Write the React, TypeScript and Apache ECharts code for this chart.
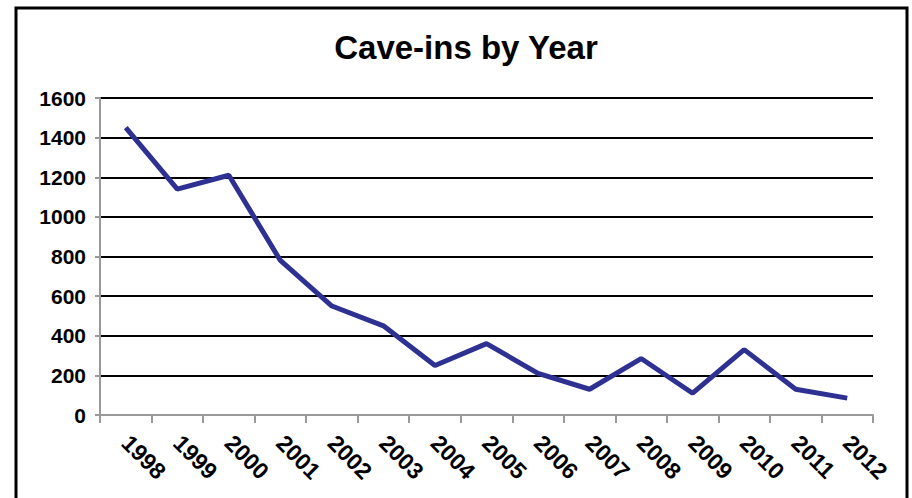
import React, { useEffect, useRef } from "react";
import * as echarts from "echarts";

const years = ["1998","1999","2000","2001","2002","2003","2004","2005","2006","2007","2008","2009","2010","2011","2012"];
const caveIns = [1450, 1140, 1210, 780, 550, 450, 250, 360, 210, 130, 285, 110, 330, 130, 85];
const chartTitle = "Cave-ins by Year";

export default function App() {
  const ref = useRef<HTMLDivElement>(null);
  useEffect(() => {
    document.body.style.margin = "0";
    const chart = echarts.init(ref.current!, null, { renderer: "svg" });
    chart.setOption({
      animation: false,
      backgroundColor: "#ffffff",
      textStyle: { fontFamily: "Liberation Sans, Arial, sans-serif" },
      title: {
        text: chartTitle,
        left: 461,
        top: 26,
        textAlign: "center",
        textStyle: { fontSize: 33, fontWeight: "bold", color: "#000" },
      },
      graphic: [
        {
          type: "rect",
          shape: { x: 16, y: 8, width: 891, height: 520 },
          style: { fill: "none", stroke: "#000", lineWidth: 3 },
          silent: true,
        },
      ],
      grid: { left: 100, right: 39, top: 98, bottom: 83, containLabel: false },
      xAxis: {
        type: "category",
        data: years,
        boundaryGap: true,
        axisLine: { lineStyle: { color: "#999", width: 2 } },
        axisTick: { show: true, length: 8, lineStyle: { color: "#999", width: 2 } },
        axisLabel: {
          rotate: -45,
          margin: 24,
          fontSize: 23,
          fontWeight: "bold",
          color: "#000",
          interval: 0,
        },
        splitLine: { show: false },
      },
      yAxis: {
        type: "value",
        min: 0,
        max: 1600,
        interval: 200,
        axisLine: { show: true, lineStyle: { color: "#999", width: 2 } },
        axisTick: { show: true, length: 5, lineStyle: { color: "#999", width: 2 } },
        axisLabel: {
          margin: 14,
          fontSize: 21,
          fontWeight: "bold",
          color: "#000",
          formatter: (v: number) => String(v),
        },
        splitLine: { show: true, showMinLine: false, lineStyle: { color: "#000", width: 2 } },
      },
      series: [
        {
          type: "line",
          data: caveIns,
          symbol: "none",
          lineStyle: { color: "#2E3192", width: 5 },
          itemStyle: { color: "#2E3192" },
        },
      ],
    });
    return () => chart.dispose();
  }, []);
  return <div ref={ref} style={{ width: 912, height: 498 }} />;
}
